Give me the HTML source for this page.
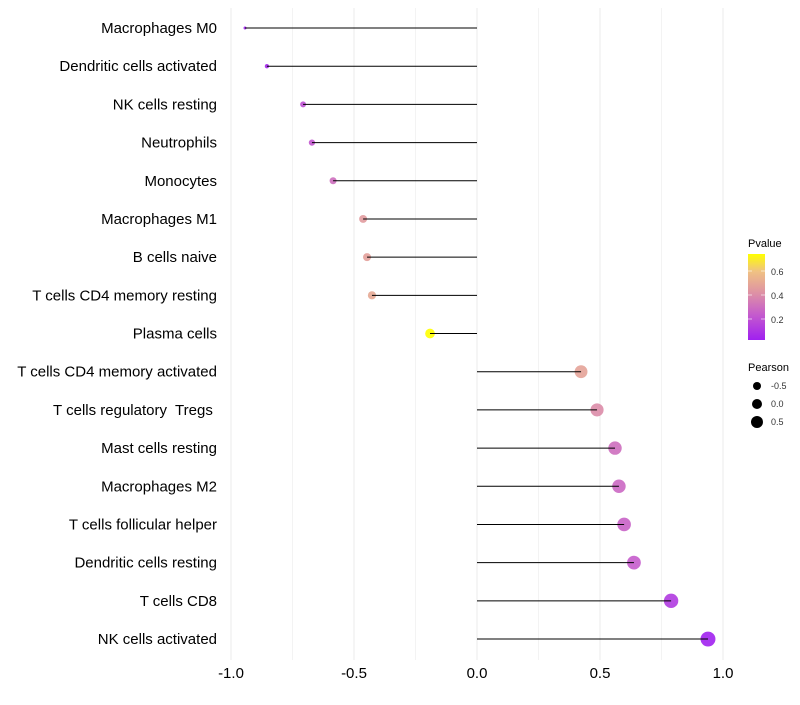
<!DOCTYPE html>
<html><head><meta charset="utf-8"><style>
body{margin:0;background:#fff;font-family:"Liberation Sans",sans-serif}
text{white-space:pre}
</style></head><body>
<svg id="c" width="800" height="700" xmlns="http://www.w3.org/2000/svg">
<defs><linearGradient id="pg" x1="0" y1="1" x2="0" y2="0">
<stop offset="0" stop-color="#a020f0"/><stop offset="0.3" stop-color="#c55ccc"/><stop offset="0.55" stop-color="#de92a4"/><stop offset="0.8" stop-color="#f0c282"/><stop offset="1" stop-color="#ffff00"/></linearGradient></defs>
<g id="grid"></g><g id="marks"></g><g id="labels"></g>
<g>
<text x="748" y="247" font-size="11">Pvalue</text>
<rect x="748" y="254" width="17" height="86" fill="url(#pg)"/>
<g font-size="9" fill="#333"><text x="771" y="275">0.6</text><text x="771" y="299">0.4</text><text x="771" y="323">0.2</text></g>
<g stroke="#fff" stroke-opacity="0.6"><line x1="748" x2="752" y1="271" y2="271"/><line x1="761" x2="765" y1="271" y2="271"/><line x1="748" x2="752" y1="295" y2="295"/><line x1="761" x2="765" y1="295" y2="295"/><line x1="748" x2="752" y1="319" y2="319"/><line x1="761" x2="765" y1="319" y2="319"/></g>
<text x="748" y="371" font-size="11">Pearson</text>
<circle cx="757" cy="386" r="4"/><circle cx="757" cy="404" r="5"/><circle cx="757" cy="422" r="6"/>
<g font-size="9" fill="#333"><text x="771" y="389">-0.5</text><text x="771" y="407">0.0</text><text x="771" y="425">0.5</text></g>
</g>
</svg>
<script>
const cells=["Macrophages M0","Dendritic cells activated","NK cells resting","Neutrophils","Monocytes","Macrophages M1","B cells naive","T cells CD4 memory resting","Plasma cells","T cells CD4 memory activated","T cells regulatory  Tregs ","Mast cells resting","Macrophages M2","T cells follicular helper","Dendritic cells resting","T cells CD8","NK cells activated"];
const pearson=[-0.943,-0.854,-0.707,-0.671,-0.585,-0.463,-0.447,-0.427,-0.191,0.423,0.488,0.561,0.577,0.598,0.638,0.789,0.939];
const pvalue=[0.01,0.05,0.2,0.22,0.3,0.45,0.47,0.5,0.74,0.48,0.4,0.3,0.28,0.26,0.24,0.12,0.03];
const xticks=[-1,-0.5,0,0.5,1];
const xtickLabels=["-1.0","-0.5","0.0","0.5","1.0"];
const NS="http://www.w3.org/2000/svg";
const x=v=>477+v*246;
const y=i=>28+i*38.19;
function col(p){const t=Math.max(0,Math.min(1,(p-0.025)/0.715));
const st=[[0,[160,32,240]],[0.3,[197,92,204]],[0.55,[222,146,164]],[0.8,[240,194,130]],[1,[255,255,0]]];
for(let k=1;k<st.length;k++){if(t<=st[k][0]){const a=st[k-1],b=st[k],f=(t-a[0])/(b[0]-a[0]);return "rgb("+a[1].map((c,j)=>Math.round(c+(b[1][j]-c)*f)).join(",")+")";}}return "rgb(255,255,0)";}
function el(t,a,p){const e=document.createElementNS(NS,t);for(const k in a)e.setAttribute(k,a[k]);p.appendChild(e);return e;}
const g=document.getElementById("grid"),m=document.getElementById("marks"),l=document.getElementById("labels");
for(let v=-1;v<=1.001;v+=0.25){const ln=el("line",{x1:x(v),x2:x(v),y1:8,y2:660,stroke:"#ebebeb","stroke-width":Math.abs(v*2-Math.round(v*2))<0.01?1:0.6},g);

}
xticks.forEach((v,i)=>{const t=el("text",{x:x(v),y:678,"font-size":15,"text-anchor":"middle"},l);t.textContent=xtickLabels[i];

});
cells.forEach((c,i)=>{const t=el("text",{x:217,y:y(i)+5,"font-size":15,"text-anchor":"end"},l);t.textContent=c;


const r=Math.sqrt(Math.max(2.25,29+28.6*pearson[i]));
const pt=el("circle",{cx:x(pearson[i]),cy:y(i),r:r,fill:col(pvalue[i]),"fill-opacity":0.9},m);


const ln=el("line",{x1:x(0),x2:x(pearson[i]),y1:y(i),y2:y(i),stroke:"#000","stroke-width":1},m);

});
</script>
</body></html>
